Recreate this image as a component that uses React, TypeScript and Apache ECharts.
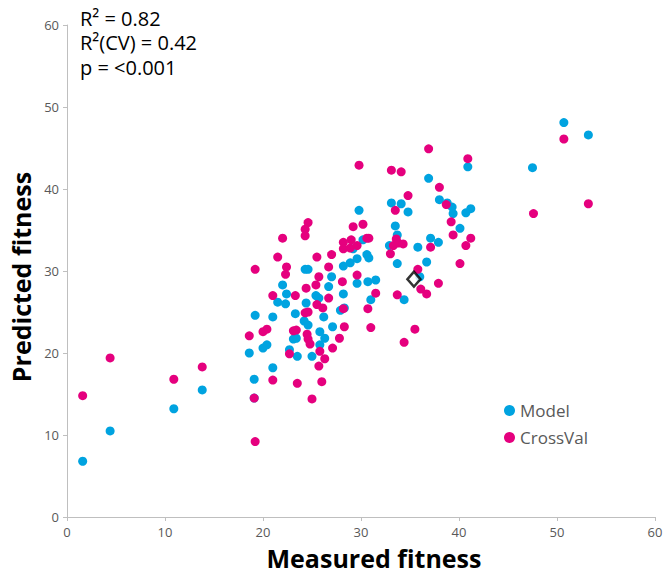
import React, { useEffect, useRef } from "react";
import * as echarts from "echarts";

const xTicks = [0, 10, 20, 30, 40, 50, 60];
const yTicks = [0, 10, 20, 30, 40, 50, 60];
const seriesNames = ["Model", "CrossVal"];
const statLines = ["R² = 0.82", "R²(CV) = 0.42", "p = <0.001"];
const highlightPoint = [[35.4, 29.0]];

const modelPoints: number[][] = [
  [1.6, 6.8], [4.4, 10.5], [10.9, 13.2], [13.8, 15.5], [18.6, 20.0], [19.1, 16.8],
  [19.1, 14.5], [20.0, 20.6], [20.4, 21.0], [19.2, 24.6], [21.0, 24.4], [21.0, 18.2],
  [21.5, 26.2], [22.0, 28.3], [22.3, 26.0], [22.4, 27.2], [22.7, 20.4], [23.1, 21.7],
  [23.4, 21.8], [23.5, 19.6], [23.3, 24.8], [24.2, 23.9], [24.6, 23.4], [24.4, 26.1],
  [24.3, 30.2], [24.6, 30.2], [25.0, 19.6], [25.4, 27.0], [25.7, 26.7], [25.8, 22.6],
  [25.8, 21.0], [26.2, 24.4], [26.3, 21.8], [26.7, 28.1], [27.0, 29.3], [27.1, 23.2],
  [27.9, 25.2], [28.3, 25.5], [28.2, 27.2], [28.2, 30.6], [28.9, 31.0], [29.6, 31.5],
  [29.6, 28.5], [29.8, 37.4], [30.6, 32.0], [30.8, 31.6], [30.7, 28.7], [31.5, 28.9],
  [31.0, 26.5], [32.9, 33.1], [33.1, 38.3], [34.1, 38.2], [33.5, 35.5], [33.7, 34.4],
  [33.7, 30.9], [34.4, 26.5], [34.8, 37.2], [35.8, 32.9], [36.0, 29.3], [36.7, 31.1],
  [36.9, 41.3], [37.1, 34.0], [37.9, 33.5], [38.0, 38.7], [38.8, 38.3], [39.3, 37.8],
  [39.4, 37.0], [40.1, 35.2], [40.7, 37.1], [41.2, 37.6], [40.9, 42.7], [47.5, 42.6],
  [50.7, 48.1], [53.2, 46.6], [29.2, 32.7], [30.2, 33.8]
];

const crossValPoints: number[][] = [
  [1.6, 14.8], [4.4, 19.4], [10.9, 16.8], [13.8, 18.3], [18.6, 22.1], [19.1, 14.5],
  [19.2, 9.2], [20.0, 22.6], [20.4, 22.9], [19.2, 30.2], [21.0, 27.0], [21.0, 16.7],
  [21.5, 31.7], [22.0, 34.0], [22.3, 29.6], [22.4, 30.5], [22.7, 19.9], [23.1, 22.7],
  [23.4, 22.8], [23.3, 27.0], [23.5, 16.3], [24.3, 35.1], [24.3, 34.3], [24.6, 35.9],
  [24.3, 24.9], [24.6, 25.0], [24.4, 27.9], [24.5, 22.3], [24.6, 21.7], [24.8, 21.1],
  [25.0, 14.4], [25.4, 28.3], [25.7, 29.3], [25.5, 31.7], [25.5, 25.9], [26.1, 25.5],
  [25.7, 18.4], [25.8, 20.2], [26.0, 16.5], [26.3, 19.3], [26.7, 30.5], [26.7, 26.7],
  [27.0, 32.0], [27.1, 20.6], [27.8, 21.8], [28.1, 28.7], [28.2, 33.5], [28.2, 32.7],
  [28.9, 32.8], [29.0, 33.8], [29.6, 33.1], [28.2, 25.4], [28.3, 23.2], [29.2, 35.4],
  [29.6, 29.5], [29.8, 42.9], [30.2, 35.7], [30.6, 34.0], [30.8, 34.0], [30.7, 25.4],
  [31.0, 23.1], [31.5, 27.3], [33.1, 42.3], [34.1, 42.1], [33.5, 37.4], [33.6, 33.9],
  [33.8, 33.4], [34.3, 33.3], [33.3, 33.1], [33.0, 32.1], [33.7, 27.1], [34.4, 21.3],
  [34.8, 39.2], [35.5, 22.9], [35.8, 30.2], [36.1, 27.8], [36.7, 27.2], [36.9, 44.9],
  [37.1, 32.9], [37.9, 28.5], [38.0, 40.2], [38.7, 38.1], [39.2, 36.0], [39.4, 34.4],
  [40.1, 30.9], [40.7, 33.1], [40.9, 43.7], [41.2, 34.0], [47.6, 37.0], [50.7, 46.1],
  [53.2, 38.2]
];

const BLUE = "#00A3E0";
const PINK = "#E5007E";
const FONT = "Open Sans";

export default function App() {
  const ref = useRef<HTMLDivElement>(null);
  useEffect(() => {
    if (!ref.current) return;
    const chart = echarts.init(ref.current, undefined, { renderer: "svg" });
    const axisCommon = {
      axisLine: { show: true, lineStyle: { color: "#BFBFBF", width: 1 } },
      axisTick: { show: true, length: 4, lineStyle: { color: "#BFBFBF" } },
      splitLine: { show: false },
      axisLabel: { color: "#595959", fontSize: 13, fontFamily: FONT },
    };
    const nameStyle = {
      color: "#000",
      fontSize: 25,
      lineHeight: 25,
      fontWeight: "bold",
      fontFamily: FONT,
    };
    chart.setOption({
      animation: false,
      backgroundColor: "#fff",
      grid: { left: 67, right: 10, top: 25, bottom: 59, outerBoundsMode: "none" },
      xAxis: {
        type: "value",
        min: xTicks[0],
        max: xTicks[xTicks.length - 1],
        interval: 10,
        name: "Measured fitness",
        nameLocation: "middle",
        nameGap: 28,
        nameTextStyle: { ...nameStyle, padding: [0, 0, 0, 26] },
        ...axisCommon,
      },
      yAxis: {
        type: "value",
        min: yTicks[0],
        max: yTicks[yTicks.length - 1],
        interval: 10,
        name: "Predicted fitness",
        nameLocation: "middle",
        nameGap: 32,
        nameTextStyle: { ...nameStyle, padding: [0, 12, 0, 0] },
        ...axisCommon,
      },
      legend: {
        data: seriesNames,
        orient: "vertical",
        left: 499,
        top: 397,
        itemWidth: 11,
        itemHeight: 11,
        itemGap: 10,
        icon: "circle",
        textStyle: { color: "#595959", fontSize: 17, fontFamily: FONT },
      },
      graphic: statLines.map((t, i) => ({
        type: "text",
        left: 80,
        top: 8 + i * 24.5,
        style: { text: t, fontSize: 20, fill: "#000", fontFamily: FONT },
      })),
      series: [
        {
          name: seriesNames[0],
          type: "scatter",
          data: modelPoints,
          symbolSize: 9,
          itemStyle: { color: BLUE, opacity: 1 },
        },
        {
          name: seriesNames[1],
          type: "scatter",
          data: crossValPoints,
          symbolSize: 9,
          itemStyle: { color: PINK, opacity: 1 },
        },
        {
          name: "Highlight",
          type: "scatter",
          data: highlightPoint,
          symbol: "diamond",
          symbolSize: [13, 15],
          itemStyle: { color: "#fff", borderColor: "#000", borderWidth: 2.5 },
        },
      ],
    });
    return () => chart.dispose();
  }, []);
  return (
    <div
      ref={ref}
      style={{ position: "fixed", left: 0, top: 0, width: 665, height: 576 }}
    />
  );
}
